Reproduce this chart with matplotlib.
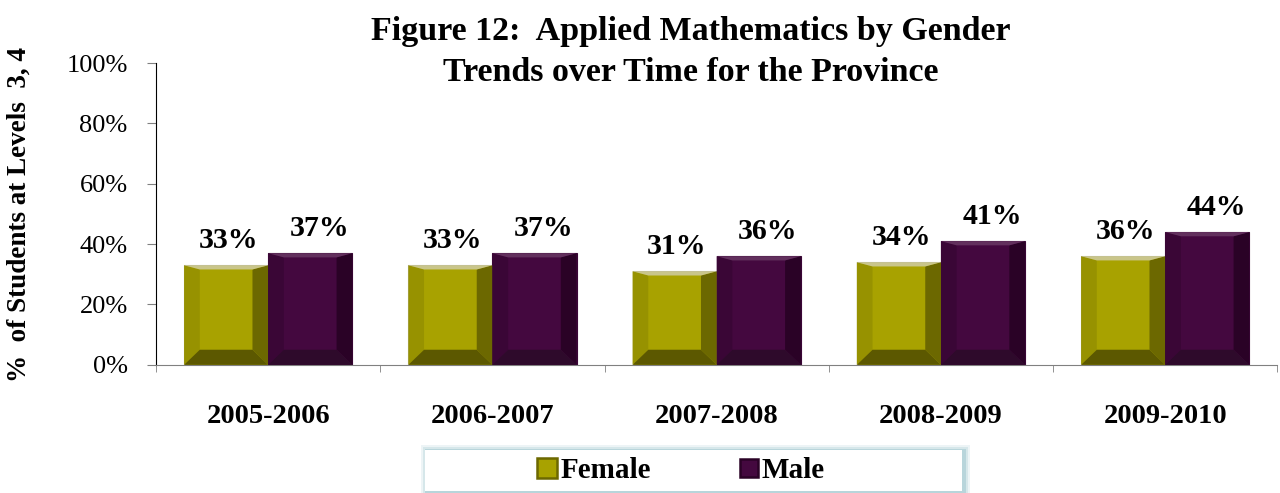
import matplotlib.pyplot as plt
from matplotlib.patches import Polygon, Rectangle
from matplotlib.lines import Line2D

# =============================
# DATA
# =============================
YEARS = ["2005-2006", "2006-2007", "2007-2008", "2008-2009", "2009-2010"]
FEMALE = [33, 33, 31, 34, 36]
MALE = [37, 37, 36, 41, 44]
Y_TICKS = [0, 20, 40, 60, 80, 100]

# =============================
# STYLE
# =============================
FONT = "Liberation Serif"
plt.rcParams["font.family"] = [FONT, "DejaVu Serif"]

# face, left, right, bottom, top
FEMALE_COLORS = ("#a8a200", "#979200", "#6c6800", "#5c5800", "#c9c58a")
MALE_COLORS = ("#44083f", "#3a0636", "#2a0226", "#2e0a2b", "#62305d")

BAR_W = 0.375
BEVEL_X = 0.07
BEVEL_Y = 5.0
BEVEL_TOP = 1.4


def bevel_bar(ax, x, h, colors, edge):
    face, left, right, bottom, top = colors
    x0 = x - BAR_W / 2
    x1 = x + BAR_W / 2
    ax.bar(x, h, width=BAR_W, color=face, edgecolor=edge, linewidth=0.8, zorder=2)
    ix0, ix1 = x0 + BEVEL_X, x1 - BEVEL_X
    polys = [
        ([(x0, 0), (x0, h), (ix0, h - BEVEL_TOP), (ix0, BEVEL_Y)], left),
        ([(x1, 0), (x1, h), (ix1, h - BEVEL_TOP), (ix1, BEVEL_Y)], right),
        ([(x0, 0), (x1, 0), (ix1, BEVEL_Y), (ix0, BEVEL_Y)], bottom),
        ([(x0, h), (x1, h), (ix1, h - BEVEL_TOP), (ix0, h - BEVEL_TOP)], top),
    ]
    for pts, c in polys:
        ax.add_patch(Polygon(pts, closed=True, facecolor=c, edgecolor="none", zorder=3))


fig = plt.figure(figsize=(12.8, 4.93), dpi=100)
ax = fig.add_axes([0.122, 0.26, 0.876, 0.612])

for i in range(len(YEARS)):
    xf = i - 0.188
    xm = i + 0.187
    bevel_bar(ax, xf, FEMALE[i], FEMALE_COLORS, "#b8b8a8")
    bevel_bar(ax, xm, MALE[i], MALE_COLORS, "#3a0636")
    ax.annotate(f"{FEMALE[i]}%", (xf + 0.01, FEMALE[i]), xytext=(0, 8),
                textcoords="offset points", ha="center", va="bottom",
                fontsize=21.5, fontweight="bold")
    ax.annotate(f"{MALE[i]}%", (xm + 0.04, MALE[i]), xytext=(0, 8),
                textcoords="offset points", ha="center", va="bottom",
                fontsize=21.5, fontweight="bold")

ax.set_xlim(-0.5, len(YEARS) - 0.5)
ax.set_ylim(0, 100)
ax.set_yticks(Y_TICKS)
ax.set_yticklabels([f"{v}%" for v in Y_TICKS], fontsize=19)
ax.tick_params(axis="y", length=6.5, color="#808080", pad=14)

ax.set_xticks(range(len(YEARS)))
ax.set_xticklabels(YEARS, fontsize=20.5, fontweight="bold")
ax.tick_params(axis="x", which="major", length=0, pad=28)
ax.set_xticks([i - 0.5 for i in range(len(YEARS) + 1)], minor=True)
ax.tick_params(axis="x", which="minor", length=5, color="#808080")

ax.spines["top"].set_visible(False)
ax.spines["right"].set_visible(False)
ax.spines["left"].set_color("black")
ax.spines["bottom"].set_color("#808080")

fig.text(0.015, 0.565, "%  of Students at Levels  3, 4", rotation=90,
         ha="center", va="center", fontsize=19.5, fontweight="bold")

fig.text(0.54, 0.937, "Figure 12:  Applied Mathematics by Gender",
         ha="center", va="center", fontsize=24.5, fontweight="bold")
fig.text(0.54, 0.853, "Trends over Time for the Province",
         ha="center", va="center", fontsize=24.5, fontweight="bold")

# legend frame with soft teal shadow
lx0, ly0, lw, lh = 425 / 1280, 2 / 493, 537 / 1280, 41 / 493
for k, a in enumerate([0.10, 0.14, 0.22]):
    off = (3 - k) * 2
    fig.patches.append(Rectangle((lx0 - off / 1280 + 2 / 1280, ly0 - off / 493 - 1 / 493),
                                 lw + 2 * off / 1280, lh + 2 * off / 493,
                                 transform=fig.transFigure, facecolor="#4f98a8",
                                 edgecolor="none", alpha=a, zorder=0))
fig.patches.append(Rectangle((lx0, ly0), lw, lh, transform=fig.transFigure,
                             facecolor="white", edgecolor="none", zorder=1))

handles = [
    Line2D([], [], marker="s", linestyle="none", markersize=14,
           markerfacecolor=FEMALE_COLORS[0], markeredgecolor="#6c6800", markeredgewidth=1.8),
    Line2D([], [], marker="s", linestyle="none", markersize=13,
           markerfacecolor=MALE_COLORS[0], markeredgecolor="#2a0226", markeredgewidth=1.8),
]
leg = fig.legend(handles, ["Female", "Male"], loc="center",
                 bbox_to_anchor=(0.532, ly0 + lh / 2), ncol=2, frameon=False,
                 prop={"family": FONT, "weight": "bold", "size": 21},
                 handlelength=0.7, handletextpad=0.1, columnspacing=3.0)

fig.savefig("out.png", dpi=100)
